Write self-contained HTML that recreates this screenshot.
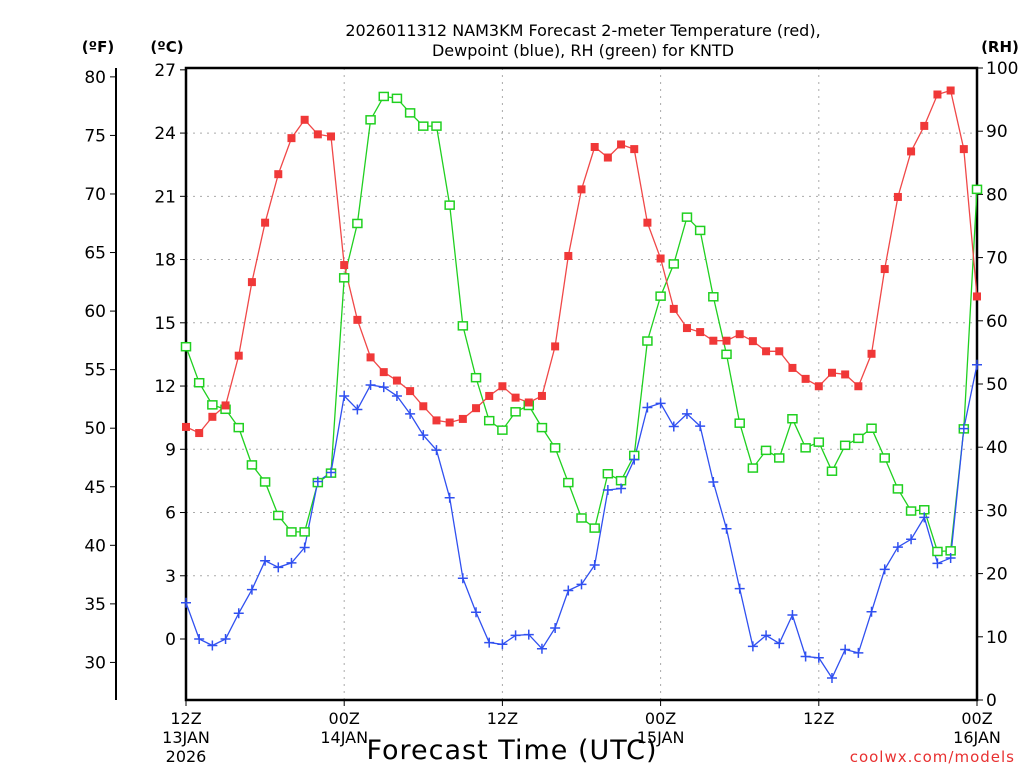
<!DOCTYPE html>
<html><head><meta charset="utf-8"><style>
html,body{margin:0;padding:0;background:#fff;}
svg{display:block;font-family:"DejaVu Sans","Liberation Sans",sans-serif;}
</style></head><body>
<svg id="chart" width="1024" height="768" viewBox="0 0 1024 768" xmlns="http://www.w3.org/2000/svg">
<g font-size="16" text-anchor="middle" fill="#000">
<text x="583" y="36">2026011312 NAM3KM Forecast 2-meter Temperature (red),</text>
<text x="583" y="56">Dewpoint (blue), RH (green) for KNTD</text>
</g>
<text x="98" y="52" font-size="15" font-weight="bold" text-anchor="middle">(ºF)</text>
<text x="167" y="52" font-size="15" font-weight="bold" text-anchor="middle">(ºC)</text>
<text x="1000" y="52" font-size="15" font-weight="bold" text-anchor="middle">(RH)</text>
<g id="grid"></g>
<g id="axes"></g>
<g id="series"></g>
<text x="512" y="759" font-size="27" text-anchor="middle" letter-spacing="1">Forecast Time (UTC)</text>
<text x="1015" y="762" font-size="15" fill="#e83030" text-anchor="end" letter-spacing="1">coolwx.com/models</text>
</svg>
<script>
const temperatureC = [10.06,9.77,10.54,11.08,13.44,16.93,19.75,22.05,23.76,24.63,23.94,23.84,17.74,15.14,13.36,12.66,12.26,11.76,11.04,10.37,10.27,10.44,10.95,11.53,11.99,11.45,11.22,11.53,13.88,18.17,21.33,23.34,22.84,23.46,23.24,19.75,18.05,15.66,14.75,14.56,14.15,14.15,14.46,14.13,13.65,13.65,12.86,12.34,11.99,12.63,12.55,11.99,13.53,17.55,20.97,23.13,24.34,25.83,26.02,23.24,16.25];
const dewpointC = [1.72,0,-0.31,0,1.22,2.34,3.71,3.40,3.61,4.34,7.47,7.90,11.53,10.89,12.05,11.95,11.53,10.68,9.67,8.96,6.70,2.88,1.27,-0.17,-0.25,0.17,0.21,-0.46,0.52,2.30,2.59,3.51,7.07,7.14,8.51,10.98,11.18,10.08,10.68,10.10,7.45,5.23,2.39,-0.35,0.17,-0.21,1.14,-0.83,-0.89,-1.85,-0.50,-0.66,1.29,3.30,4.36,4.73,5.77,3.59,3.84,9.98,13.01];
const rhPct = [55.9,50.2,46.7,46.0,43.1,37.2,34.5,29.2,26.6,26.6,34.4,35.9,66.8,75.4,91.8,95.5,95.2,92.9,90.8,90.8,78.3,59.2,51.0,44.2,42.7,45.6,46.6,43.1,39.9,34.4,28.8,27.2,35.8,34.7,38.7,56.8,63.9,69.0,76.4,74.3,63.8,54.7,43.8,36.7,39.5,38.3,44.5,39.9,40.8,36.2,40.3,41.4,43.0,38.3,33.4,29.9,30.1,23.5,23.6,42.9,80.8];
const celsiusTicks = [0,3,6,9,12,15,18,21,24,27];
const fahrenheitTicks = [30,35,40,45,50,55,60,65,70,75,80];
const rhTicks = [0,10,20,30,40,50,60,70,80,90,100];
const timeTickHours = [0,12,24,36,48,60];
const timeTickLabels = [["12Z","13JAN","2026"],["00Z","14JAN"],["12Z"],["00Z","15JAN"],["12Z"],["00Z","16JAN"]];

const NS="http://www.w3.org/2000/svg";
const L=186,R=977,T=68,B=700;
const xH=h=>L+(R-L)*h/60;
const yC=c=>639-c*21.08;
const yF=f=>yC((f-32)*5/9);
const yRH=r=>B-(B-T)*r/100;
function mk(tag,attrs,parent,txt){const e=document.createElementNS(NS,tag);for(const k in attrs)e.setAttribute(k,attrs[k]);if(txt!==undefined)e.textContent=txt;parent.appendChild(e);return e;}
const grid=document.getElementById('grid'),axes=document.getElementById('axes'),series=document.getElementById('series');
celsiusTicks.forEach(c=>{
  if(c>0&&c<27){const g=mk('line',{x1:L,x2:R,y1:yC(c),y2:yC(c),stroke:'#aaa','stroke-dasharray':'2,5'},grid);
  
  }
  const t=mk('line',{x1:L-6,x2:L,y1:yC(c),y2:yC(c),stroke:'#000'},axes);
  
  
  const tx=mk('text',{x:L-10,y:yC(c)+6,'font-size':17,'text-anchor':'end'},axes,String(c));
  
  
});
timeTickHours.forEach((h,i)=>{
  if(h>0&&h<60){const g=mk('line',{x1:xH(h),x2:xH(h),y1:T,y2:B,stroke:'#aaa','stroke-dasharray':'2,5'},grid);
  
  }
  const t=mk('line',{x1:xH(h),x2:xH(h),y1:B,y2:B+6,stroke:'#000'},axes);
  
  
  timeTickLabels[i].forEach((s,j)=>{
    const tx=mk('text',{x:xH(h),y:B+24+j*19,'font-size':16,'text-anchor':'middle'},axes,s);
    
    
  });
});
fahrenheitTicks.forEach(f=>{
  const t=mk('line',{x1:110,x2:116,y1:yF(f),y2:yF(f),stroke:'#000'},axes);
  
  
  const tx=mk('text',{x:106,y:yF(f)+6,'font-size':17,'text-anchor':'end'},axes,String(f));
  
  
});
rhTicks.forEach(r=>{
  const t=mk('line',{x1:R,x2:R+6,y1:yRH(r),y2:yRH(r),stroke:'#000'},axes);
  
  
  const tx=mk('text',{x:R+9,y:yRH(r)+6,'font-size':17,'text-anchor':'start'},axes,String(r));
  
  
});
const fl=mk('line',{x1:116,x2:116,y1:T,y2:B,stroke:'#000','stroke-width':2},axes);


const fr=mk('rect',{x:L,y:T,width:R-L,height:B-T,fill:'none',stroke:'#000','stroke-width':2.5},axes);



function drawLine(vals,yf,color,name){
  const pts=vals.map((v,i)=>xH(i).toFixed(1)+','+yf(v).toFixed(1)).join(' ');
  const p=mk('polyline',{points:pts,fill:'none',stroke:color,'stroke-width':1.3},series);
  
  
}
drawLine(rhPct,yRH,'#20d020','rh');
drawLine(temperatureC,yC,'#f04848','temperature');
drawLine(dewpointC,yC,'#3050f0','dewpoint');
rhPct.forEach((v,i)=>{
  const m=mk('rect',{x:xH(i)-4.5,y:yRH(v)-4,width:9,height:8,fill:'#fff',stroke:'#20d020','stroke-width':1.5},series);
  
  
});
temperatureC.forEach((v,i)=>{
  const m=mk('rect',{x:xH(i)-4,y:yC(v)-4,width:8,height:8,fill:'#f03838'},series);
  
  
});
dewpointC.forEach((v,i)=>{
  const x=xH(i),y=yC(v);
  const m=mk('path',{d:`M${x-5},${y}H${x+5}M${x},${y-5}V${y+5}`,stroke:'#3050f0','stroke-width':1.5},series);
  
  
});
</script>
</body></html>
